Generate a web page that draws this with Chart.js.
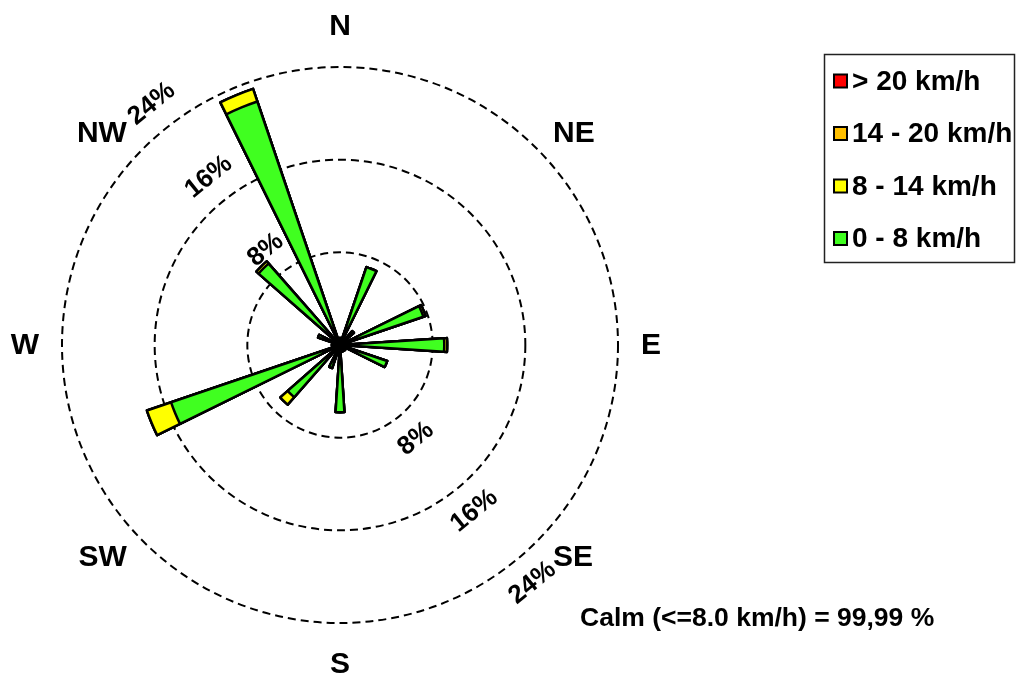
<!DOCTYPE html>
<html>
<head>
<meta charset="utf-8">
<title>Wind rose</title>
<script src="https://cdn.jsdelivr.net/npm/chart.js@4/dist/chart.umd.min.js"></script>
<style>
  body { margin: 0; background: #fff; }
  canvas { display: block; }
</style>
</head>
<body>
<canvas id="rose" width="1018" height="680"></canvas>
<script>
// 16 wind directions, clockwise from north
const directions = ['N', 'NNE', 'NE', 'ENE', 'E', 'ESE', 'SE', 'SSE', 'S', 'SSW', 'SW', 'WSW', 'W', 'WNW', 'NW', 'NNW'];
// frequency in % per speed class
const speed0to8   = [0.6, 7.1, 1.6, 7.6, 9.0, 4.3, 0.6, 0.6, 5.8, 2.1, 6.0, 15.4, 0.7, 2.0, 9.35, 22.2];
const speed8to14  = [0, 0, 0, 0.2, 0.25, 0, 0, 0, 0, 0, 0.85, 2.2, 0, 0, 0.25, 1.15];
const speed14to20 = [0, 0, 0, 0, 0, 0, 0, 0, 0, 0, 0, 0, 0, 0, 0, 0];
const speedOver20 = [0, 0, 0, 0, 0, 0, 0, 0, 0, 0, 0, 0, 0, 0, 0, 0];

const compassLabels = ['N', 'NE', 'E', 'SE', 'S', 'SW', 'W', 'NW'];
const ringTicks = [8, 16, 24];
const legendLabels = ['> 20 km/h', '14 - 20 km/h', '8 - 14 km/h', '0 - 8 km/h'];
const legendColors = ['#ff0000', '#ffbf00', '#ffff00', '#40ff20'];
const calmText = 'Calm (<=8.0 km/h) = 99,99 %';

const FONT = '"Liberation Sans", Arial, Helvetica, sans-serif';

// each direction gets one narrow slice followed by two empty ones
let toSlots = (vals) => {
  let out = [];
  vals.forEach(v => out.push(v, 0, 0));
  return out;
};
let addUp = (a, b) => a.map((v, i) => v + b[i]);

const cum1 = speed0to8;
const cum2 = addUp(cum1, speed8to14);
const cum3 = addUp(cum2, speed14to20);
const cum4 = addUp(cum3, speedOver20);

let slotLabels = [];
directions.forEach(d => slotLabels.push(d, '', ''));

let petalSet = (vals, color) => ({
  data: toSlots(vals),
  backgroundColor: ctx => ctx.dataIndex % 3 === 0 ? color : 'rgba(0,0,0,0)',
  borderColor: '#000',
  borderWidth: ctx => ctx.dataIndex % 3 === 0 ? 2.5 : 0,
  borderJoinStyle: 'round'
});

const overlay = {
  id: 'overlay',
  afterDraw(chart) {
    const ctx = chart.ctx;
    const r = chart.scales.r;
    const cx = r.xCenter, cy = r.yCenter;
    ctx.save();
    ctx.fillStyle = '#000';

    // compass points
    ctx.font = 'bold 30px ' + FONT;
    ctx.textAlign = 'center';
    ctx.textBaseline = 'middle';
    compassLabels.forEach((lab, i) => {
      const a = i * Math.PI / 4;
      const s = Math.round(Math.sin(a) * 1000) / 1000;
      const c = Math.round(Math.cos(a) * 1000) / 1000;
      const w = ctx.measureText(lab).width;
      const R = r.drawingArea + 22;
      let x = cx + R * s + Math.sign(s) * (w / 2 + 1);
      let y = cy - R * c;
      if (Math.abs(c) > 0.9) y -= Math.sign(c) * 19;
      ctx.fillText(lab, x, y + 1);
    });

    // ring labels
    ctx.font = 'bold 26px ' + FONT;
    ringTicks.forEach(v => {
      const d = r.getDistanceFromCenterForValue(v) + 28;
      [322, 141].forEach(deg => {
        const a = deg * Math.PI / 180;
        ctx.save();
        ctx.translate(cx + d * Math.sin(a), cy - d * Math.cos(a));
        ctx.rotate(-39 * Math.PI / 180);
        ctx.fillText(v + '%', 0, 0);
        ctx.restore();
      });
    });

    // calm note
    ctx.font = 'bold 26.5px ' + FONT;
    ctx.textAlign = 'left';
    ctx.fillText(calmText, 580, 619);

    // legend box
    ctx.strokeStyle = '#222';
    ctx.lineWidth = 1.5;
    ctx.strokeRect(824.5, 54.5, 190, 208);
    ctx.font = 'bold 28px ' + FONT;
    legendLabels.forEach((lab, i) => {
      const y = 81 + i * 52.5;
      ctx.fillStyle = legendColors[i];
      ctx.fillRect(834, y - 6.5, 13, 13);
      ctx.strokeStyle = '#000';
      ctx.lineWidth = 2;
      ctx.strokeRect(834, y - 6.5, 13, 13);
      ctx.fillStyle = '#000';
      ctx.fillText(lab, 852, y + 1);
    });
    ctx.restore();
  }
};

new Chart(document.getElementById('rose'), {
  type: 'polarArea',
  data: {
    labels: slotLabels,
    datasets: [
      petalSet(cum1, legendColors[3]),
      petalSet(cum2, legendColors[2]),
      petalSet(cum3, legendColors[1]),
      petalSet(cum4, legendColors[0])
    ]
  },
  options: {
    responsive: false,
    animation: false,
    devicePixelRatio: 1,
    layout: { padding: { left: 62, top: 67, right: 400, bottom: 57 } },
    plugins: {
      legend: { display: false },
      tooltip: { enabled: false }
    },
    scales: {
      r: {
        min: 0,
        max: 24,
        startAngle: -3.75,
        ticks: { stepSize: 8, display: false },
        grid: { circular: true, color: '#000', lineWidth: 2 },
        border: { dash: [8, 5] },
        angleLines: { display: false },
        pointLabels: { display: false }
      }
    }
  },
  plugins: [overlay]
});
</script>
</body>
</html>
